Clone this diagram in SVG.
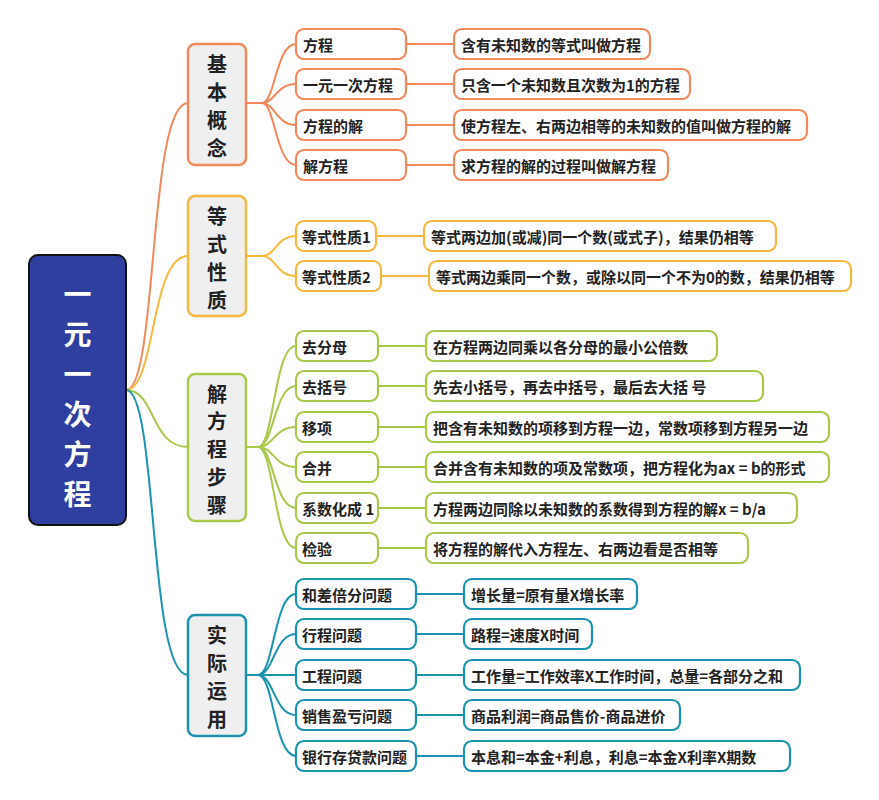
<svg xmlns="http://www.w3.org/2000/svg" width="879" height="800" viewBox="0 0 879 800">
<style>
text{font-family:"Noto Sans CJK SC","Noto Sans",sans-serif;fill:#222;}
.t{font-size:15px;font-weight:600;dominant-baseline:central;}
.c{font-size:20px;font-weight:700;text-anchor:middle;dominant-baseline:central;}
.r{font-size:28px;font-weight:700;fill:#fff;text-anchor:middle;dominant-baseline:central;}
rect{fill:#fff;stroke-width:2.2;}
.cat{fill:#efefef;stroke-width:2.5;}
path{fill:none;stroke-width:2;}
.o rect,.o path{stroke:#f0895c;} .y rect,.y path{stroke:#f5b941;} .g rect,.g path{stroke:#a9c94b;} .b rect,.b path{stroke:#1b93ae;}
</style>
<rect x="0" y="0" width="879" height="800" style="fill:#fff;stroke:none"/>
<g id="connectors">
<g class="o"><path d="M126,390 C158,390 148,103 188,103"/><path d="M246,103 L262,103 C275,103 276,44 296,44 M262,103 C275,103 276,84 296,84 M262,103 C275,103 276,125 296,125 M262,103 C275,103 276,165 296,165"/><path d="M406,44 H454 M406,84 H454 M406,125 H454 M406,165 H454"/></g>
<g class="y"><path d="M126,390 C156,390 150,256 188,256"/><path d="M246,256 L262,256 C276,256 276,236 296,236 M262,256 C276,256 276,276 296,276"/><path d="M376,236 H424 M381,276 H429"/></g>
<g class="g"><path d="M126,390 C156,390 150,447 188,447"/><path d="M246,447 L258,447 C274,447 274,346 296,346 M258,447 C274,447 274,386 296,386 M258,447 C274,447 274,427 296,427 M258,447 C274,447 274,467 296,467 M258,447 C274,447 274,508 296,508 M258,447 C274,447 274,548 296,548"/><path d="M378,346 H426 M378,386 H426 M378,427 H426 M378,467 H426 M378,508 H426 M378,548 H426"/></g>
<g class="b"><path d="M126,390 C158,390 148,675 188,675"/><path d="M246,675 L258,675 C274,675 274,594 296,594 M258,675 C274,675 274,634 296,634 M258,675 C274,675 274,675 296,675 M258,675 C274,675 274,715 296,715 M258,675 C274,675 274,756 296,756"/><path d="M416,594 H464 M416,634 H464 M416,675 H464 M416,715 H464 M416,756 H464"/></g>
</g>
<g id="root"><rect x="29" y="255" width="97" height="270" rx="9" style="fill:#2f3f9f;stroke:#111;stroke-width:2"/>
<text class="r" x="77.5" y="293">一</text><text class="r" x="77.5" y="333">元</text><text class="r" x="77.5" y="373">一</text><text class="r" x="77.5" y="413">次</text><text class="r" x="77.5" y="453">方</text><text class="r" x="77.5" y="493">程</text></g>
<g id="cat1" class="o"><rect class="cat" x="188" y="44" width="58" height="121" rx="7"/><text class="c" x="217" y="63">基</text><text class="c" x="217" y="91">本</text><text class="c" x="217" y="119">概</text><text class="c" x="217" y="147">念</text></g>
<g id="cat2" class="y"><rect class="cat" x="188" y="196" width="58" height="120" rx="7"/><text class="c" x="217" y="215">等</text><text class="c" x="217" y="243">式</text><text class="c" x="217" y="271">性</text><text class="c" x="217" y="299">质</text></g>
<g id="cat3" class="g"><rect class="cat" x="188" y="374" width="58" height="147" rx="7"/><text class="c" x="217" y="393">解</text><text class="c" x="217" y="420">方</text><text class="c" x="217" y="448">程</text><text class="c" x="217" y="476">步</text><text class="c" x="217" y="504">骤</text></g>
<g id="cat4" class="b"><rect class="cat" x="188" y="615" width="58" height="121" rx="7"/><text class="c" x="217" y="634">实</text><text class="c" x="217" y="662">际</text><text class="c" x="217" y="690">运</text><text class="c" x="217" y="718">用</text></g>
<g id="basic" class="o">
<rect x="296" y="29" width="110" height="30" rx="8"/><text class="t" x="303" y="44">方程</text>
<rect x="296" y="69" width="110" height="30" rx="8"/><text class="t" x="303" y="84">一元一次方程</text>
<rect x="296" y="110" width="110" height="30" rx="8"/><text class="t" x="303" y="125">方程的解</text>
<rect x="296" y="150" width="110" height="30" rx="8"/><text class="t" x="303" y="165">解方程</text>
<rect x="454" y="29" width="196" height="30" rx="8"/><text class="t" x="461" y="44">含有未知数的等式叫做方程</text>
<rect x="454" y="69" width="236" height="30" rx="8"/><text class="t" x="461" y="84">只含一个未知数且次数为1的方程</text>
<rect x="454" y="110" width="353" height="30" rx="8"/><text class="t" x="461" y="125">使方程左、右两边相等的未知数的值叫做方程的解</text>
<rect x="454" y="150" width="214" height="30" rx="8"/><text class="t" x="461" y="165">求方程的解的过程叫做解方程</text>
</g>
<g id="props" class="y">
<rect x="296" y="221" width="80" height="30" rx="8"/><text class="t" x="302" y="236">等式性质1</text>
<rect x="296" y="261" width="85" height="30" rx="8"/><text class="t" x="302" y="276">等式性质2</text>
<rect x="424" y="221" width="352" height="30" rx="8"/><text class="t" x="431" y="236">等式两边加(或减)同一个数(或式子)，结果仍相等</text>
<rect x="429" y="261" width="422" height="30" rx="8"/><text class="t" x="436" y="276">等式两边乘同一个数，或除以同一个不为0的数，结果仍相等</text>
</g>
<g id="steps" class="g">
<rect x="296" y="331" width="82" height="30" rx="8"/><text class="t" x="302" y="346">去分母</text>
<rect x="296" y="371" width="82" height="30" rx="8"/><text class="t" x="302" y="386">去括号</text>
<rect x="296" y="412" width="82" height="30" rx="8"/><text class="t" x="302" y="427">移项</text>
<rect x="296" y="452" width="82" height="30" rx="8"/><text class="t" x="302" y="467">合并</text>
<rect x="296" y="493" width="82" height="30" rx="8"/><text class="t" x="302" y="508">系数化成 1</text>
<rect x="296" y="533" width="82" height="30" rx="8"/><text class="t" x="302" y="548">检验</text>
<rect x="426" y="331" width="291" height="30" rx="8"/><text class="t" x="433" y="346">在方程两边同乘以各分母的最小公倍数</text>
<rect x="426" y="371" width="337" height="30" rx="8"/><text class="t" x="433" y="386">先去小括号，再去中括号，最后去大括 号</text>
<rect x="426" y="412" width="403" height="30" rx="8"/><text class="t" x="433" y="427">把含有未知数的项移到方程一边，常数项移到方程另一边</text>
<rect x="426" y="452" width="403" height="30" rx="8"/><text class="t" x="433" y="467">合并含有未知数的项及常数项，把方程化为ax = b的形式</text>
<rect x="426" y="493" width="371" height="30" rx="8"/><text class="t" x="433" y="508">方程两边同除以未知数的系数得到方程的解x = b/a</text>
<rect x="426" y="533" width="322" height="30" rx="8"/><text class="t" x="433" y="548">将方程的解代入方程左、右两边看是否相等</text>
</g>
<g id="apps" class="b">
<rect x="296" y="579" width="120" height="30" rx="8"/><text class="t" x="302" y="594">和差倍分问题</text>
<rect x="296" y="619" width="120" height="30" rx="8"/><text class="t" x="302" y="634">行程问题</text>
<rect x="296" y="660" width="120" height="30" rx="8"/><text class="t" x="302" y="675">工程问题</text>
<rect x="296" y="700" width="120" height="30" rx="8"/><text class="t" x="302" y="715">销售盈亏问题</text>
<rect x="296" y="741" width="120" height="30" rx="8"/><text class="t" x="302" y="756">银行存贷款问题</text>
<rect x="464" y="579" width="173" height="30" rx="8"/><text class="t" x="471" y="594">增长量=原有量X增长率</text>
<rect x="464" y="619" width="128" height="30" rx="8"/><text class="t" x="471" y="634">路程=速度X时间</text>
<rect x="464" y="660" width="336" height="30" rx="8"/><text class="t" x="471" y="675">工作量=工作效率X工作时间，总量=各部分之和</text>
<rect x="464" y="700" width="216" height="30" rx="8"/><text class="t" x="471" y="715">商品利润=商品售价-商品进价</text>
<rect x="464" y="741" width="326" height="30" rx="8"/><text class="t" x="471" y="756">本息和=本金+利息，利息=本金X利率X期数</text>
</g>
</svg>
